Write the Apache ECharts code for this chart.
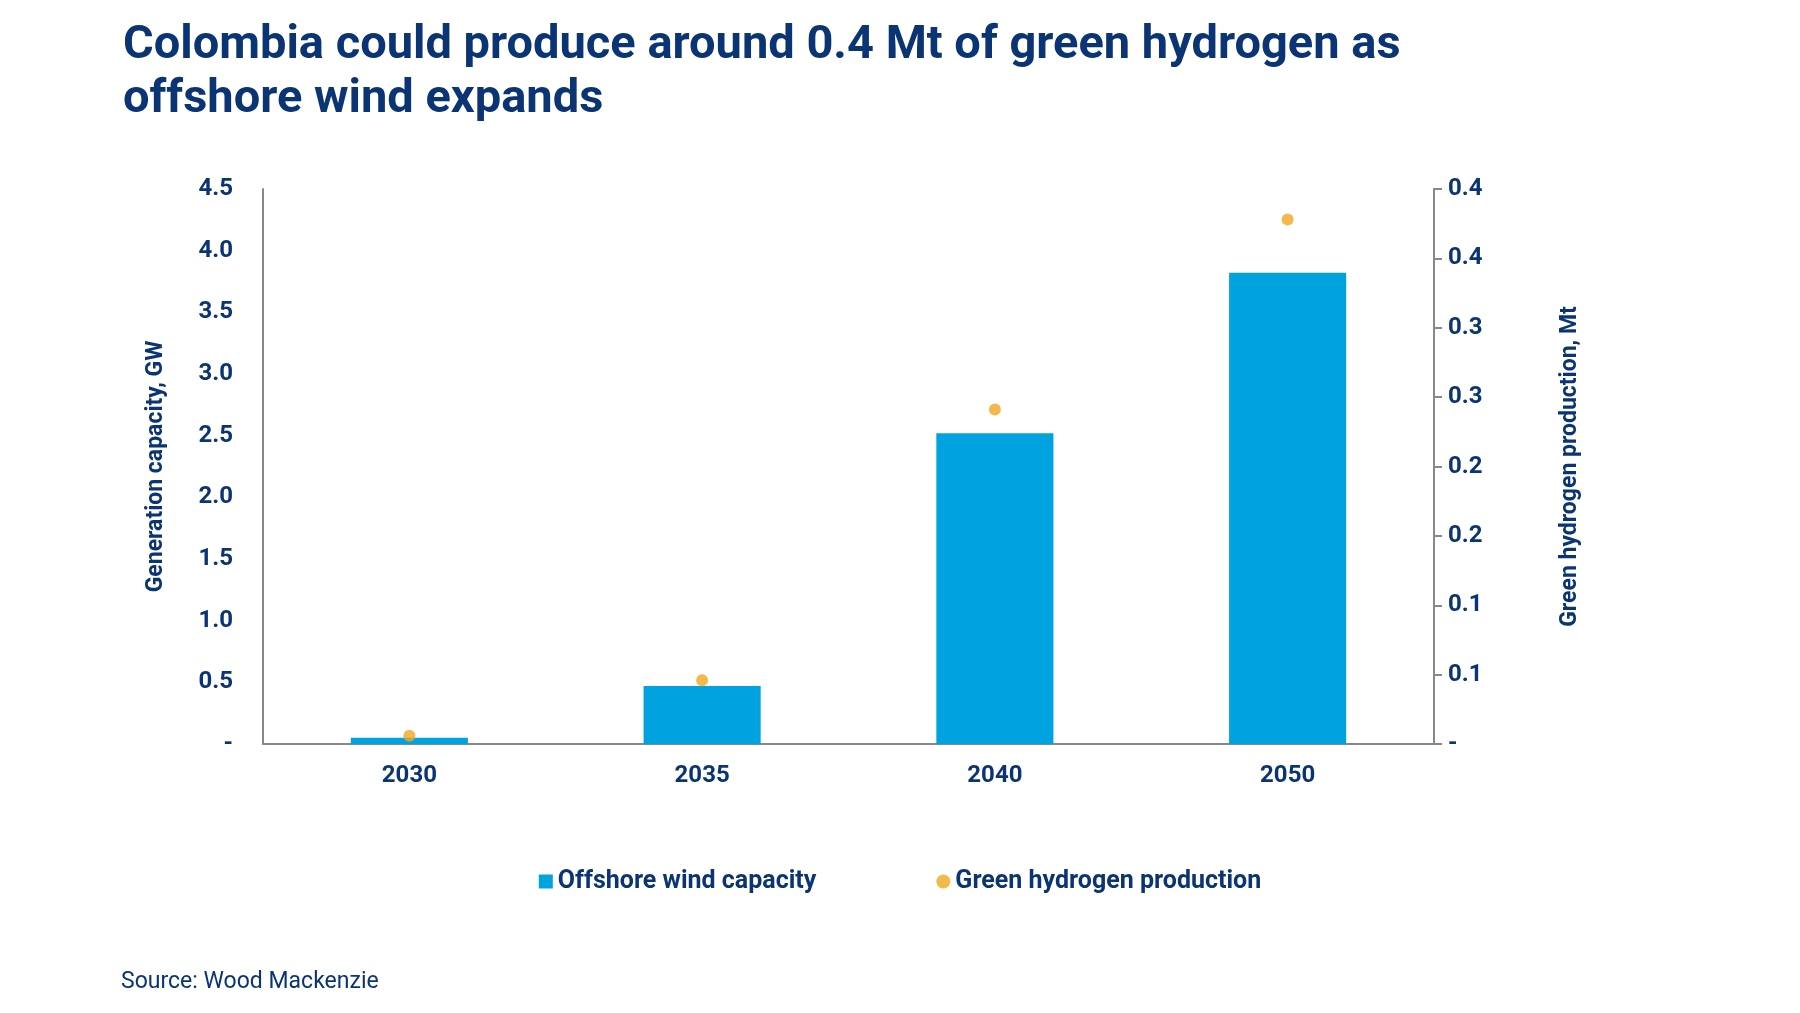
<!DOCTYPE html>
<html><head><meta charset="utf-8">
<script src="https://cdn.jsdelivr.net/npm/echarts@6/dist/echarts.min.js"></script>
<style>html,body{margin:0;background:#fff}#c{width:1800px;height:1013px}</style>
</head><body><div id="c"></div>
<script>
var years = ['2030', '2035', '2040', '2050'];
var windCapacity = [0.05, 0.47, 2.52, 3.82];
var hydrogenProduction = [0.006, 0.046, 0.241, 0.378];

var navy = '#0b3474';
var font = 'Roboto';
var chart = echarts.init(document.getElementById('c'));
chart.setOption({
  textStyle: {fontFamily: font},
  title: [{
    text: 'Colombia could produce around 0.4 Mt of green hydrogen as\noffshore wind expands',
    left: 118, top: 14,
    textStyle: {color: navy, fontSize: 47, fontWeight: 'bold', lineHeight: 54, fontFamily: font}
  }, {
    text: 'Source: Wood Mackenzie',
    left: 116, top: 966,
    textStyle: {color: navy, fontSize: 23, fontWeight: 'normal', fontFamily: font}
  }],
  legend: {
    top: 864, left: 'center', itemGap: 120, itemWidth: 14, itemHeight: 14,
    textStyle: {color: navy, fontSize: 25, fontWeight: 'bold'},
    data: [{name: 'Offshore wind capacity', icon: 'rect'}, {name: 'Green hydrogen production', icon: 'circle'}]
  },
  grid: {left: 263, right: 366, top: 189, bottom: 269},
  xAxis: {
    type: 'category', data: years,
    axisLine: {lineStyle: {color: '#888', width: 2}},
    axisTick: {show: false},
    axisLabel: {color: navy, fontSize: 24, fontWeight: 'bold', margin: 20}
  },
  yAxis: [{
    type: 'value', min: 0, max: 4.5, interval: 0.5,
    name: 'Generation capacity, GW', nameLocation: 'middle', nameGap: 95, nameRotate: 90,
    nameTextStyle: {color: navy, fontSize: 23, fontWeight: 'bold'},
    axisLine: {show: true, lineStyle: {color: '#888', width: 2}},
    axisTick: {show: false}, splitLine: {show: false},
    axisLabel: {color: navy, fontSize: 24, fontWeight: 'bold', margin: 30,
      formatter: function (v) { return v === 0 ? '-' : v.toFixed(1); }}
  }, {
    type: 'value', min: 0, max: 0.4, interval: 0.05,
    name: 'Green hydrogen production, Mt', nameLocation: 'middle', nameGap: 125, nameRotate: 90,
    nameTextStyle: {color: navy, fontSize: 23, fontWeight: 'bold'},
    axisLine: {show: true, lineStyle: {color: '#888', width: 2}},
    axisTick: {show: true, length: 8, lineStyle: {color: '#888', width: 2}},
    splitLine: {show: false},
    axisLabel: {color: navy, fontSize: 24, fontWeight: 'bold', margin: 14,
      formatter: function (v) { return v < 1e-9 ? '-' : (Math.round(v * 10 + 1e-9) / 10).toFixed(1); }}
  }],
  series: [{
    name: 'Offshore wind capacity', type: 'bar', data: windCapacity,
    barWidth: '40%', itemStyle: {color: '#00a3e0'}
  }, {
    name: 'Green hydrogen production', type: 'scatter', yAxisIndex: 1,
    data: hydrogenProduction, symbolSize: 12, itemStyle: {color: '#f0a820'}
  }]
});
</script></body></html>
